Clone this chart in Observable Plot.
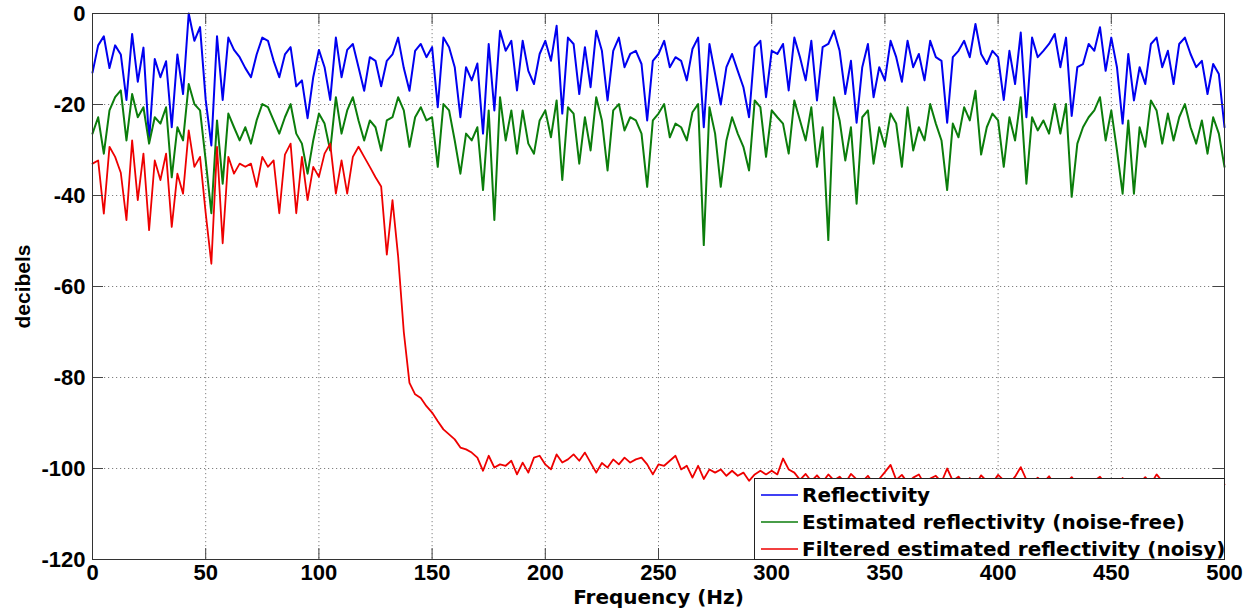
<!DOCTYPE html>
<html>
<head>
<meta charset="utf-8">
<script src="https://cdn.jsdelivr.net/npm/d3@7"></script>
<script src="https://cdn.jsdelivr.net/npm/@observablehq/plot@0.6"></script>
<style>
  html, body { margin: 0; padding: 0; background: #fff; }
  #wrap { position: relative; width: 1248px; height: 610px; }
  #legend {
    position: absolute; left: 754px; top: 478px; width: 471px; height: 82px;
    box-sizing: border-box; border: 1px solid #222; background: #fff;
    padding-top: 2px;
    font-family: "DejaVu Sans", sans-serif; font-weight: bold; font-size: 20px; color: #000;
  }
  .row { display: flex; align-items: center; height: 27px; white-space: nowrap; }
  .row svg { margin-left: 6px; margin-right: 4px; flex: none; }
  .row span { flex: none; }
</style>
</head>
<body>
<div id="wrap"></div>
<script>
// Frequency grid (Hz), one sample every 2.5 Hz from 0 to 500
const step = 2.5;
const freq = d3.range(201).map(i => i * step);

// Reflectivity (dB)
const reflectivity = [
  -13,-7,-5,-12,-7,-9,-19,-4.5,-15,-7.5,-28,-10,-14,-10.5,-25,-9,-17.7,0,-6,-3,
  -19,-29,-5,-19,-5.3,-8,-9.6,-12,-14,-9,-5.3,-6,-10.4,-14,-9,-7.4,-16,-14.7,-23,-14,
  -8,-11.8,-19,-5.3,-14,-8,-6.7,-11.8,-17,-9.6,-10.4,-16,-10.4,-9,-5.3,-12,-17,-8.2,-6.7,-9.6,
  -7.4,-20.6,-5.3,-7.4,-11.8,-22.8,-11.8,-14.7,-11,-26.4,-6.7,-21.3,-3.8,-8.2,-6,-16.9,-6,-12.6,-15.5,-8.9,
  -6,-10.4,-2.7,-22,-5.3,-6.7,-17.7,-7.4,-16.2,-3.8,-8.2,-19.1,-8.2,-5.3,-11.8,-8.9,-8.2,-11.1,-23.5,-10.4,
  -8.9,-6,-11.8,-9.6,-10.4,-14.7,-7.8,-5.3,-25,-6.7,-13.3,-20,-11.8,-8.9,-12.6,-16.2,-22.8,-7.4,-6,-18.4,
  -8.2,-8.9,-6.7,-16.9,-5.3,-9.6,-14.7,-6,-19.1,-7.4,-6.7,-3.8,-8.2,-17.7,-10.4,-24,-11.8,-6.7,-18.4,-11.8,
  -14.7,-6,-9.6,-15,-6,-11.8,-8.9,-14.7,-6,-9.6,-10.4,-24,-9.6,-8.2,-6,-9.6,-2.3,-8.9,-11.1,-8.2,
  -9.6,-19,-8.2,-15.5,-4.2,-22.8,-5.3,-9.6,-8.2,-6.7,-4.5,-11.8,-5.3,-22.5,-11.8,-11.1,-6.7,-8.2,-3,-12.6,
  -5.3,-11.8,-24.2,-8.9,-19.1,-11.8,-15.5,-6.7,-5.3,-11.8,-8.2,-15.5,-6.7,-5.3,-8.9,-11.8,-10.4,-17.7,-11.1,-13.3,
  -25
];

// Estimated reflectivity (noise-free) (dB)
const estimatedNoiseFree = [
  -26.4,-22.8,-30.8,-21.3,-18.4,-16.9,-27.9,-17.7,-22.8,-20.6,-28.6,-22.8,-24.2,-20.6,-36,-25,-27.9,-15.5,-19.9,-21.3,
  -32.3,-43.9,-23.5,-37.4,-22,-25,-27.9,-25,-28.6,-23.5,-19.9,-20.6,-23.5,-26.4,-22.8,-19.9,-26.4,-28.6,-35.2,-27.9,
  -22,-24.2,-30.1,-18.4,-26.4,-21.3,-18.4,-23.5,-27.9,-23.5,-25,-30.1,-23.5,-22.8,-18.4,-21.3,-29.3,-22.8,-20.6,-23.5,
  -22.8,-33.7,-19.9,-21.3,-27.9,-35.2,-26.4,-27.9,-25,-38.8,-21.3,-45.4,-18.4,-27.9,-21.3,-30.8,-21.3,-28.6,-30.8,-23.5,
  -21.3,-27.2,-19.1,-36.6,-20.6,-22,-33,-22.8,-30.1,-18.4,-23.5,-34.5,-21.3,-19.9,-25.7,-22.8,-23.5,-26.4,-38.1,-23.5,
  -22,-19.9,-27.2,-24.2,-25,-27.9,-21.7,-19.9,-50.9,-20.6,-26.4,-38.1,-27.9,-22.8,-26.4,-29.3,-34.5,-19.1,-20.6,-31.5,
  -21.3,-22.8,-24.2,-30.8,-19.1,-23.5,-27.9,-20.6,-33.7,-25,-49.8,-18.4,-23.5,-32.3,-25,-41.8,-22.8,-21.3,-33,-25,
  -29.3,-22,-24.2,-33.7,-20.6,-30.1,-25,-27.9,-19.9,-24.2,-27.9,-38.8,-24.2,-27.2,-20.6,-23.5,-17,-31,-25,-22,
  -23.5,-33.7,-22.8,-27.9,-18.4,-37.4,-22.8,-25.7,-23.5,-26.4,-19.9,-26.4,-19.9,-40.3,-28.6,-25,-22.8,-21.3,-18.4,-27.9,
  -21.3,-30.1,-39.6,-23.5,-39.6,-25,-29.3,-19.1,-21.3,-28.6,-22,-27.9,-22.8,-19.9,-25,-28.6,-23.5,-30.8,-22.8,-26.4,
  -33.7
];

// Filtered estimated reflectivity (noisy) (dB)
const filteredNoisy = [
  -33,-32.3,-44,-29.3,-31.5,-35,-45.4,-27.9,-41,-30.8,-47.6,-32.3,-36.6,-30.8,-46.9,-35.2,-39.6,-25.7,-33.7,-31.5,
  -43.9,-55,-29.3,-50.5,-31.5,-35.2,-33,-33.7,-33,-38.1,-31.5,-33.7,-32.3,-43.9,-31,-28.6,-43.9,-31.5,-41,-33.7,
  -35.9,-30.8,-28.6,-39.6,-32.3,-39.6,-31.5,-29.3,-31.5,-33.7,-36,-38,-53,-41,-53.4,-70,-81.2,-83.7,-84.5,-86.3,
  -87.7,-89.6,-91.4,-92.5,-93.6,-95.4,-95.8,-96.5,-97.6,-100.5,-97.2,-99.8,-99.1,-99.4,-98.3,-101.3,-98.7,-100.9,-97.6,-97.2,
  -99.1,-100.2,-96.9,-98.7,-98,-96.9,-98.3,-96.5,-98.7,-100.9,-98.8,-99.8,-98,-99.1,-97.6,-98.7,-98,-97.6,-99.1,-101.3,
  -99.1,-99.4,-98.3,-97.2,-100.2,-99.4,-102,-99.4,-102.3,-100.2,-100.9,-100.2,-101.6,-100.5,-101.6,-100.9,-102.7,-101.3,-100.5,-101.3,
  -100.5,-101.3,-97.8,-100.2,-100.9,-102.5,-101.2,-102.8,-101.5,-103,-101.3,-102.6,-101.8,-103.2,-101.2,-102.4,-102.9,-101.6,-103.4,-102.3,
  -100.8,-99.2,-102.5,-101.4,-103.1,-102,-101.3,-103.5,-102.2,-101.6,-103,-100,-102.7,-101.8,-103.3,-102.1,-103.6,-101.5,-102.8,-103.2,
  -101.4,-102.6,-103.3,-101.8,-99.7,-102.5,-103.4,-102,-103.1,-101.7,-103.5,-102.4,-103.2,-101.9,-103.6,-102.3,-103,-102.7,-101.8,-103.4,
  -102.5,-103.3,-102.1,-103.7,-102.6,-103.2,-101.9,-103.4,-101.3,-102.8,-103.5,-102.6,-103.8,-102.9,-103.4,-102.5,-103.9,-103.1,-103.6,-102.8,
  -103.5
];

const xTicks = [0, 50, 100, 150, 200, 250, 300, 350, 400, 450, 500];
const yTicks = [-120, -100, -80, -60, -40, -20, 0];

const seriesNames = [
  "Reflectivity",
  "Estimated reflectivity (noise-free)",
  "Filtered estimated reflectivity (noisy)"
];
const seriesColors = ["#0000f0", "#0b7d0b", "#ee0000"];
const seriesValues = [reflectivity, estimatedNoiseFree, filteredNoisy];

const table = seriesValues.map(vals => freq.map((f, i) => ({f, v: vals[i]})));

const chart = Plot.plot({
  width: 1248,
  height: 610,
  marginLeft: 92,
  marginRight: 24,
  marginTop: 13,
  marginBottom: 51,
  x: {domain: [0, 500], label: null},
  y: {domain: [-120, 0], label: null},
  style: {
    fontFamily: "'Liberation Sans', Arial, sans-serif",
    fontSize: "22px",
    fontWeight: "bold",
    color: "#000",
    background: "#fff"
  },
  marks: [
    Plot.gridX(xTicks.slice(1, -1), {stroke: "#808080", strokeOpacity: 1, strokeDasharray: "1.2,2.8"}),
    Plot.gridY(yTicks.slice(1, -1), {stroke: "#808080", strokeOpacity: 1, strokeDasharray: "1.2,2.8"}),
    ...table.map((d, k) => Plot.line(d, {x: "f", y: "v", stroke: seriesColors[k], strokeWidth: k === 2 ? 1.8 : 2})),
    Plot.tickX(xTicks, {x: d => d, insetTop: 535, stroke: "#444"}),
    Plot.tickX(xTicks, {x: d => d, insetBottom: 535, stroke: "#444"}),
    Plot.tickY(yTicks, {y: d => d, insetRight: 1121, stroke: "#444"}),
    Plot.tickY(yTicks, {y: d => d, insetLeft: 1121, stroke: "#444"}),
    Plot.frame({stroke: "#333"}),
    Plot.axisX(xTicks, {tickSize: 0, tickPadding: 5, tickFormat: d => String(d), label: null}),
    Plot.axisY(yTicks, {tickSize: 0, tickPadding: 7, tickFormat: d => String(d), label: null}),
    Plot.text(["Frequency (Hz)"], {frameAnchor: "bottom", lineAnchor: "middle", textAnchor: "middle", dy: 38, fontFamily: "'DejaVu Sans', sans-serif", fontSize: 20, fontWeight: "bold", fill: "#000"}),
    Plot.text(["decibels"], {frameAnchor: "left", lineAnchor: "middle", textAnchor: "middle", dx: -69, rotate: -90, fontSize: 21, fontWeight: "bold", fill: "#000"})
  ]
});

const wrap = document.getElementById("wrap");
wrap.appendChild(chart);

// Legend (drawn over the lower right corner of the plot area)
const legend = document.createElement("div");
legend.id = "legend";
seriesNames.forEach((name, k) => {
  const row = document.createElement("div");
  row.className = "row";
  row.innerHTML = `<svg width="37" height="4"><line x1="0" y1="2" x2="37" y2="2" stroke="${seriesColors[k]}" stroke-width="1.6"/></svg><span>${name}</span>`;
  legend.appendChild(row);
});
wrap.appendChild(legend);
</script>
</body>
</html>
